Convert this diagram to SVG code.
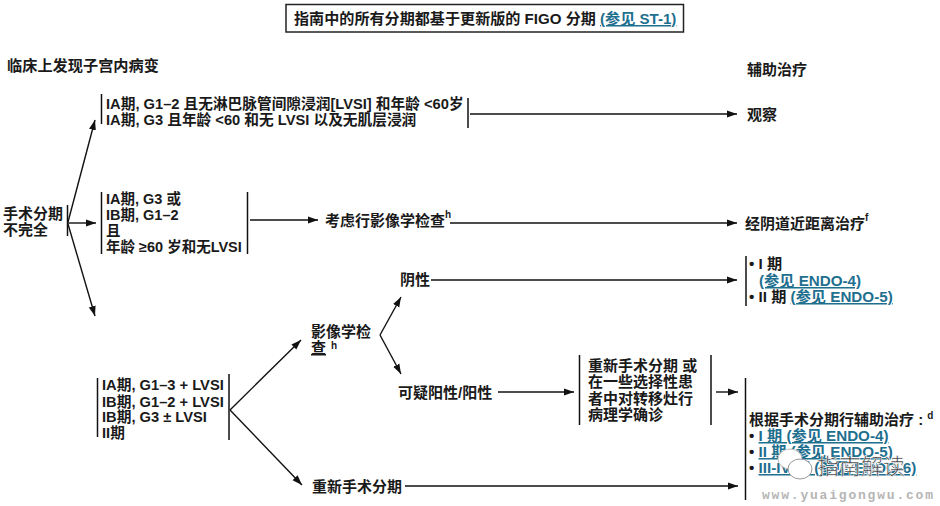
<svg xmlns="http://www.w3.org/2000/svg" width="940" height="506" viewBox="0 0 940 506">
<defs>
<marker id="a" markerUnits="userSpaceOnUse" markerWidth="12" markerHeight="8" refX="10" refY="4" orient="auto"><path d="M0 0.5L10 4L0 7.5z" fill="#111"/></marker>
</defs>
<style>
text{font-family:"Liberation Sans","Noto Sans CJK SC",sans-serif;font-weight:700;font-size:15px;fill:#1a1a1a}
.h{font-size:15.100px}
.m{font-size:14.700px}
.n{font-size:14.500px}
.w{font-size:15.200px}
.l{fill:#1f6f8f;text-decoration:underline}
.s{font-size:10px}
.c line,.c path{stroke:#111;stroke-width:1.4;fill:none}
.b line{stroke:#111;stroke-width:1.5}
.r{fill:none;stroke:#222;stroke-width:1.5}
</style>
<rect width="940" height="506" fill="#fff"/>
<g class="c" id="connectors">
<path d="M68 222L95 120" marker-end="url(#a)"/>
<line x1="68" y1="223" x2="96" y2="223" marker-end="url(#a)"/>
<path d="M68 224L95 316" marker-end="url(#a)"/>
<line x1="470" y1="114" x2="737" y2="114" marker-end="url(#a)"/>
<line x1="250" y1="220" x2="318" y2="220" marker-end="url(#a)"/>
<line x1="450" y1="223" x2="737" y2="223" marker-end="url(#a)"/>
<line x1="431" y1="280" x2="737" y2="280" marker-end="url(#a)"/>
<path d="M230 410L301 340" marker-end="url(#a)"/>
<path d="M230 410L302 485" marker-end="url(#a)"/>
<path d="M380 335L401 297" marker-end="url(#a)"/>
<path d="M380 335L401 374" marker-end="url(#a)"/>
<line x1="498" y1="392" x2="574" y2="392" marker-end="url(#a)"/>
<line x1="716" y1="392" x2="738" y2="392" marker-end="url(#a)"/>
<line x1="405" y1="486" x2="738" y2="486" marker-end="url(#a)"/>
</g>
<g id="title"><rect class="r" x="286" y="4.500" width="397.500" height="27.500"/><text class="h" x="294" y="24">指南中的所有分期都基于更新版的 FIGO 分期 <tspan class="l">(参见 ST-1)</tspan></text></g>
<g id="head-left"><text class="w" x="7" y="71">临床上发现子宫内病变</text></g>
<g id="head-right"><text x="747" y="75">辅助治疗</text></g>
<g id="start" class="b"><text x="3" y="219">手术分期</text><text x="3" y="235">不完全</text><line x1="67.500" y1="205" x2="67.500" y2="236"/></g>
<g id="n1" class="b"><line x1="101.500" y1="94" x2="101.500" y2="124"/><line x1="468" y1="98" x2="468" y2="128"/>
<text class="m" x="106" y="109">IA期, G1–2 且无淋巴脉管间隙浸润[LVSI] 和年龄 &lt;60岁</text><text class="m" x="106" y="125">IA期, G3 且年龄 &lt;60 和无 LVSI 以及无肌层浸润</text></g>
<g id="n2" class="b"><line x1="101.500" y1="192" x2="101.500" y2="254"/><line x1="247.500" y1="192" x2="247.500" y2="254"/>
<text class="n" x="106" y="204">IA期, G3 或</text><text class="n" x="106" y="220">IB期, G1–2</text><text class="n" x="106" y="236">且</text><text class="n" x="106" y="252">年龄 ≥60 岁和无LVSI</text></g>
<g id="n3"><text x="325" y="226">考虑行影像学检查<tspan class="s" dy="-8">h</tspan></text></g>
<g id="n4"><text x="745" y="229">经阴道近距离治疗<tspan class="s" dy="-8">f</tspan></text></g>
<g id="n5"><text x="747" y="120">观察</text></g>
<g id="n6" class="b"><line x1="97.500" y1="378" x2="97.500" y2="437"/><line x1="229" y1="374" x2="229" y2="440"/>
<text class="m" x="102" y="390">IA期, G1–3 + LVSI</text><text class="m" x="102" y="407">IB期, G1–2 + LVSI</text><text class="m" x="102" y="422">IB期, G3 ± LVSI</text><text class="m" x="102" y="438">II期</text></g>
<g id="n7"><text x="311" y="337">影像学检</text><text x="311" y="353" text-decoration="underline">查</text><text class="s" x="331" y="349">h</text></g>
<g id="n8"><text x="400" y="285">阴性</text></g>
<g id="n9"><text x="398" y="398">可疑阳性/阳性</text></g>
<g id="n10"><text x="312" y="492">重新手术分期</text></g>
<g id="n11" class="b"><line x1="579.500" y1="355" x2="579.500" y2="425"/><line x1="711" y1="355" x2="711" y2="425"/>
<text x="588" y="371">重新手术分期 或</text><text x="588" y="387">在一些选择性患</text><text x="588" y="404">者中对转移灶行</text><text x="588" y="420">病理学确诊</text></g>
<g id="n12" class="b"><line x1="746" y1="256" x2="746" y2="306"/>
<text class="w" x="749" y="269">• I 期</text><text class="w" x="759" y="286"><tspan class="l">(参见 ENDO-4)</tspan></text><text class="w" x="749" y="302">• II 期 <tspan class="l">(参见 ENDO-5)</tspan></text></g>
<g id="n13" class="b"><line x1="745.500" y1="378" x2="745.500" y2="500"/>
<text x="749" y="425">根据手术分期行辅助治疗 : <tspan class="s" dy="-6">d</tspan></text>
<text class="w" x="749" y="441">• <tspan class="l">I 期 (参见 ENDO-4)</tspan></text><text class="w" x="749" y="457">• <tspan class="l">II 期 (参见 ENDO-5)</tspan></text><text class="w" x="749" y="473">• <tspan class="l">III-IV 期 (参见 ENDO-6)</tspan></text></g>
<g id="watermark"><ellipse cx="790" cy="459" rx="12" ry="10" fill="#fff" stroke="#bbb"/><ellipse cx="800" cy="469" rx="12" ry="10" fill="#fff" stroke="#999"/>
<text x="817" y="474" style="font-size:22px;font-weight:400;fill:#333;stroke:#fff;stroke-width:.6">指南解读</text>
<text x="762" y="499" style="font-size:13px;fill:#b5b5b5;letter-spacing:1.800px;font-family:'Liberation Mono',monospace">www.yuaigongwu.com</text></g>
</svg>
